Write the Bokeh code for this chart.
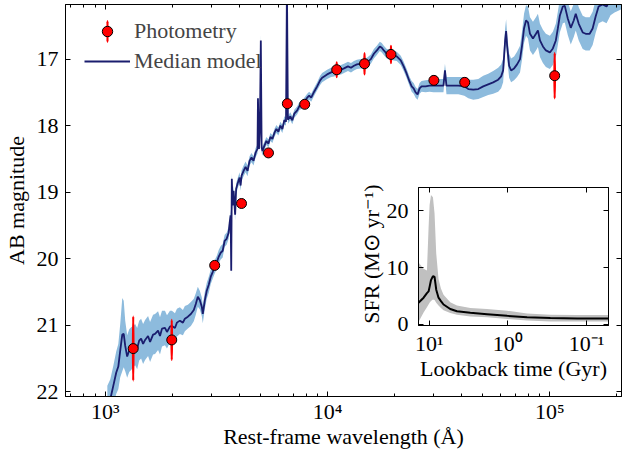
import numpy as np
from bokeh.plotting import figure
from bokeh.models import (Range1d, LogAxis, LinearAxis, FixedTicker,
                          CustomJSTickFormatter, Legend, LegendItem,
                          GlobalInlineStyleSheet)
from bokeh.embed import file_html
from bokeh.resources import INLINE

FONT = "Liberation Serif"
FS = "22px"

# ---------------- data: main panel ----------------
wave = [1021, 1053, 1086, 1120, 1144, 1167, 1192, 1210, 1229, 1254,
        1281, 1307, 1335, 1362, 1391, 1420, 1449, 1479, 1510, 1557,
        1590, 1640, 1674, 1727, 1762, 1799, 1855, 1894, 1953, 1994,
        2057, 2100, 2165, 2234, 2280, 2352, 2426, 2501, 2553, 2607,
        2661, 2716, 2745, 2802, 2860, 2920, 2981, 3042, 3106, 3170,
        3236, 3304, 3373, 3443, 3514, 3588, 3625, 3663, 3685, 3708,
        3739, 3778, 3837, 3877, 3937, 4018, 4060, 4102, 4188, 4275,
        4364, 4455, 4548, 4642, 4739, 4838, 4861, 4913, 4960, 5007,
        5050, 5094, 5200, 5306, 5419, 5529, 5645, 5763, 5884, 6006,
        6131, 6257, 6389, 6500, 6563, 6630, 6797, 6938, 7082, 7302,
        7455, 7690, 7853, 8095, 8265, 8437, 8701, 8975, 9256, 9449,
        9646, 9949, 10368, 10693, 11027, 11492, 11853, 12351, 12741, 13141,
        13552, 14123, 14566, 15024, 15654, 16149, 16653, 17178, 17532, 17900,
        18460, 19040, 19840, 20464, 21331, 21995, 22688, 23392, 23886, 24380,
        24888, 25405, 25934, 26474, 27590, 28750, 29958, 31543, 33208, 33728,
        34250, 36060, 38766, 41228, 42970, 45240, 47640, 50142, 52800, 55590,
        58533, 60370, 61618, 62260, 62907, 63550, 64214, 65560, 66920, 69020,
        71190, 73400, 74930, 76508, 78100, 79720, 81380, 83930, 86580, 88362,
        90240, 93045, 95960, 100000, 103140, 106362, 108600, 110836, 114350, 116716,
        120360, 124165, 128030, 130728, 134870, 140497, 144940, 151008, 155730, 160650,
        165700, 172680, 179880, 187460, 195370, 210000]

model_mag = [22.21, 22.11, 21.91, 21.71, 21.62, 21.38, 21.14, 21.13, 21.31, 21.47,
             21.38, 21.35, 21.32, 21.29, 21.35, 21.23, 21.20, 21.28, 21.22, 21.16,
             21.25, 21.14, 21.13, 21.08, 21.16, 21.05, 21.04, 21.10, 21.02, 21.01,
             21.04, 20.96, 20.93, 20.96, 20.90, 20.87, 20.83, 20.77, 20.68, 20.57,
             20.62, 20.72, 20.83, 20.63, 20.48, 20.39, 20.27, 20.20, 20.12, 20.06,
             19.97, 19.91, 19.88, 19.73, 19.70, 19.61, 19.46, 19.35, 20.18, 18.80,
             19.20, 18.98, 19.34, 18.95, 18.87, 18.78, 18.90, 18.75, 18.68, 18.62,
             18.68, 18.53, 18.48, 18.53, 18.41, 18.35, 17.59, 18.35, 18.05, 16.72,
             18.33, 18.38, 18.30, 18.23, 18.27, 18.17, 18.20, 18.11, 18.05, 18.09,
             18.00, 18.05, 17.92, 17.94, 15.90, 17.91, 17.86, 17.92, 17.82, 17.77,
             17.71, 17.68, 17.64, 17.58, 17.55, 17.58, 17.49, 17.41, 17.32, 17.28,
             17.26, 17.23, 17.20, 17.19, 17.17, 17.16, 17.14, 17.11, 17.13, 17.10,
             17.08, 17.07, 17.07, 17.05, 17.00, 16.92, 16.87, 16.81, 16.83, 16.87,
             16.92, 16.93, 16.95, 16.96, 17.02, 17.11, 17.22, 17.34, 17.41, 17.44,
             17.50, 17.53, 17.44, 17.41, 17.41, 17.40, 17.40, 17.40, 17.40, 17.17,
             17.40, 17.40, 17.40, 17.41, 17.45, 17.46, 17.45, 17.41, 17.38, 17.35,
             17.31, 17.26, 17.17, 16.95, 16.72, 16.58, 16.80, 17.10, 17.17, 17.14,
             17.08, 17.00, 16.80, 16.54, 16.42, 16.45, 16.62, 16.69, 16.62, 16.57,
             16.72, 16.81, 16.87, 16.90, 16.84, 16.72, 16.54, 16.35, 16.21, 16.20,
             16.39, 16.53, 16.42, 16.32, 16.47, 16.60, 16.62, 16.62, 16.54, 16.36,
             16.21, 16.18, 16.21, 16.09, 16.05, 16.00]

model_spread = [0.30, 0.30, 0.30, 0.32, 0.34, 0.40, 0.55, 0.50, 0.38, 0.32,
                0.32, 0.32, 0.31, 0.31, 0.31, 0.30, 0.30, 0.30, 0.30, 0.30,
                0.30, 0.30, 0.30, 0.29, 0.28, 0.27, 0.26, 0.25, 0.24, 0.23,
                0.22, 0.21, 0.20, 0.19, 0.19, 0.18, 0.18, 0.17, 0.16, 0.15,
                0.14, 0.14, 0.14, 0.13, 0.12, 0.12, 0.11, 0.10, 0.10, 0.10,
                0.10, 0.10, 0.10, 0.09, 0.09, 0.09, 0.09, 0.09, 0.09, 0.09,
                0.08, 0.08, 0.08, 0.08, 0.08, 0.08, 0.08, 0.08, 0.08, 0.08,
                0.08, 0.07, 0.07, 0.07, 0.07, 0.07, 0.07, 0.07, 0.07, 0.10,
                0.07, 0.07, 0.06, 0.06, 0.06, 0.06, 0.06, 0.06, 0.06, 0.06,
                0.06, 0.06, 0.06, 0.06, 0.06, 0.06, 0.06, 0.06, 0.06, 0.06,
                0.06, 0.06, 0.06, 0.06, 0.06, 0.06, 0.06, 0.06, 0.07, 0.07,
                0.07, 0.07, 0.07, 0.07, 0.07, 0.07, 0.07, 0.07, 0.07, 0.07,
                0.07, 0.07, 0.07, 0.07, 0.07, 0.07, 0.07, 0.07, 0.07, 0.07,
                0.07, 0.07, 0.07, 0.07, 0.07, 0.07, 0.07, 0.07, 0.08, 0.08,
                0.08, 0.08, 0.08, 0.08, 0.09, 0.09, 0.10, 0.10, 0.10, 0.10,
                0.13, 0.13, 0.13, 0.14, 0.14, 0.15, 0.15, 0.16, 0.16, 0.17,
                0.18, 0.18, 0.18, 0.18, 0.18, 0.18, 0.18, 0.18, 0.18, 0.18,
                0.19, 0.20, 0.21, 0.22, 0.23, 0.24, 0.25, 0.25, 0.25, 0.25,
                0.25, 0.25, 0.25, 0.25, 0.25, 0.25, 0.25, 0.25, 0.25, 0.25,
                0.25, 0.25, 0.25, 0.25, 0.25, 0.25, 0.25, 0.25, 0.25, 0.25,
                0.25, 0.25, 0.25, 0.25, 0.25, 0.25]

phot_wave = [1335, 1990, 3105, 4100, 5420, 6590, 7890, 10990, 14660, 19280, 30070, 41390, 105100]
phot_mag = [21.35, 21.22, 20.10, 19.17, 18.41, 17.67, 17.68, 17.16, 17.07, 16.93, 17.32, 17.35, 17.25]
phot_err = [0.48, 0.30, 0.03, 0.03, 0.03, 0.03, 0.03, 0.11, 0.16, 0.13, 0.03, 0.03, 0.34]

x_ticks = [1e3, 1e4, 1e5]
y_ticks = [17, 18, 19, 20, 21, 22]

# ---------------- data: inset (star-formation history) ----------------
lookback = [13.7, 11.8, 10.7, 10.2, 9.9, 9.5, 8.97, 8.56, 8.15, 7.62, 7.1,
            6.58, 5.4, 4.44, 3.0, 1.84, 1.02, 0.569, 0.288, 0.131, 0.052]
sfr_med = [3.8, 4.7, 5.5, 5.8, 6.6, 7.8, 8.5, 8.35, 6.1, 4.7, 4.1,
           3.5, 2.7, 2.3, 2.05, 1.8, 1.5, 1.25, 1.1, 1.05, 1.05]
sfr_hi = [10.9, 9.8, 9.5, 17.0, 21.0, 22.8, 22.4, 19.5, 12.5, 8.0, 6.3,
          5.2, 3.9, 3.3, 2.9, 2.7, 2.4, 1.9, 1.7, 1.65, 1.65]
sfr_lo = [0.4, 2.1, 3.0, 3.5, 3.8, 4.1, 4.4, 4.3, 3.8, 3.3, 2.9,
          2.5, 2.0, 1.7, 1.4, 1.25, 0.95, 0.7, 0.5, 0.5, 0.5]

t_ticks = [0.1, 1, 10]
sfr_ticks = [0, 10, 20]

assert len(wave) == len(model_mag) == len(model_spread)

SUP = """
const s = {"-":"\u207b","0":"\u2070","1":"\u00b9","2":"\u00b2","3":"\u00b3",
           "4":"\u2074","5":"\u2075","6":"\u2076","7":"\u2077","8":"\u2078","9":"\u2079"};
const e = Math.round(Math.log10(tick));
return "10" + String(e).split("").map(c => s[c]).join("");
"""


def style_axis(ax):
    ax.major_label_text_font = FONT
    ax.major_label_text_font_size = FS
    ax.major_label_text_color = "black"
    ax.axis_label_text_font = FONT
    ax.axis_label_text_font_size = FS
    ax.axis_label_text_font_style = "normal"
    ax.axis_label_text_color = "black"
    ax.axis_line_color = "black"
    ax.axis_line_width = 1
    ax.major_tick_line_color = "black"
    ax.minor_tick_line_color = "black"
    ax.major_tick_in = 5
    ax.major_tick_out = 0
    ax.minor_tick_in = 3
    ax.minor_tick_out = 0


def blank_axis(ax):
    style_axis(ax)
    ax.formatter = CustomJSTickFormatter(code="return ' '")
    ax.major_label_text_font_size = "1px"
    ax.major_label_standoff = 0


# ---------------- main figure ----------------
p = figure(width=627, height=452, x_axis_type="log",
           x_range=Range1d(662, 210000), y_range=Range1d(22.07, 16.18),
           output_backend="svg", toolbar_location=None,
           min_border_left=62, min_border_right=6, min_border_top=0,
           min_border_bottom=56)
p.stylesheets = [GlobalInlineStyleSheet(css="html, body { overflow: hidden; }")]
p.background_fill_color = "white"
p.border_fill_color = "white"
p.outline_line_color = "black"
p.xgrid.visible = False
p.ygrid.visible = False

x_minor = [m * 10 ** e for e in range(2, 6) for m in range(2, 10)]

xa = p.xaxis[0]
style_axis(xa)
xa.ticker = FixedTicker(ticks=x_ticks, minor_ticks=x_minor)
xa.formatter = CustomJSTickFormatter(code=SUP)
xa.axis_label = "Rest-frame wavelength (Å)"
xa.major_label_standoff = 2
xa.axis_label_standoff = -3

ya = p.yaxis[0]
style_axis(ya)
ya.ticker = FixedTicker(ticks=y_ticks, minor_ticks=[])
ya.axis_label = "AB magnitude"
ya.major_label_standoff = 7
ya.axis_label_standoff = 5

top = LogAxis(ticker=FixedTicker(ticks=x_ticks, minor_ticks=x_minor))
blank_axis(top)
p.add_layout(top, "above")
right = LinearAxis(ticker=FixedTicker(ticks=y_ticks, minor_ticks=[]))
blank_axis(right)
p.add_layout(right, "right")

med = np.array(model_mag)
spr = np.array(model_spread)
p.varea(x=wave, y1=med - spr, y2=med + spr, fill_color="#8dbbdd", fill_alpha=1.0)
line_r = p.line(wave, model_mag, line_color="#1a1d6e", line_width=1.8)

err_r = p.ellipse(x=phot_wave, y=phot_mag, width=0.5, height=[2 * e for e in phot_err],
                  width_units="screen", height_units="data",
                  fill_alpha=0, line_color="red", line_width=2.2)
pts_r = p.scatter(phot_wave, phot_mag, size=10, marker="circle",
                  fill_color="red", line_color="black", line_width=1)

legend = Legend(items=[LegendItem(label="Photometry", renderers=[err_r, pts_r]),
                       LegendItem(label="Median model", renderers=[line_r])],
                location=(19, 322), margin=0, padding=0, spacing=4,
                glyph_width=46, glyph_height=26, label_standoff=4,
                label_text_font=FONT, label_text_font_size=FS,
                border_line_color=None, background_fill_alpha=0)
p.add_layout(legend)

# ---------------- inset ----------------
ins = figure(width=262, height=204, x_axis_type="log",
             x_range=Range1d(13.7, 0.0524), y_range=Range1d(-0.2, 24.1),
             output_backend="svg", toolbar_location=None,
             min_border_left=68, min_border_right=4, min_border_top=5,
             min_border_bottom=61)
ins.styles = {"position": "absolute", "left": "350px", "top": "182px"}
ins.background_fill_color = "white"
ins.border_fill_color = None
ins.outline_line_color = "black"
ins.xgrid.visible = False
ins.ygrid.visible = False

ixa = ins.xaxis[0]
style_axis(ixa)
ixa.ticker = FixedTicker(ticks=t_ticks, minor_ticks=[])
ixa.formatter = CustomJSTickFormatter(code=SUP)
ixa.axis_label = "Lookback time (Gyr)"
ixa.major_label_standoff = 5
ixa.axis_label_standoff = -3

iya = ins.yaxis[0]
style_axis(iya)
iya.ticker = FixedTicker(ticks=sfr_ticks, minor_ticks=[])
iya.axis_label = "SFR (M\u2299 yr\u207b\u00b9)"
iya.major_label_standoff = 10
iya.axis_label_standoff = 0

itop = LogAxis(ticker=FixedTicker(ticks=t_ticks, minor_ticks=[]))
blank_axis(itop)
ins.add_layout(itop, "above")
iright = LinearAxis(ticker=FixedTicker(ticks=sfr_ticks, minor_ticks=[]))
blank_axis(iright)
ins.add_layout(iright, "right")

ins.varea(x=lookback, y1=sfr_lo, y2=sfr_hi, fill_color="#c0c0c0", fill_alpha=1.0)
ins.line(lookback, sfr_med, line_color="black", line_width=2)

open("out.html", "w").write(file_html([p, ins], INLINE))
